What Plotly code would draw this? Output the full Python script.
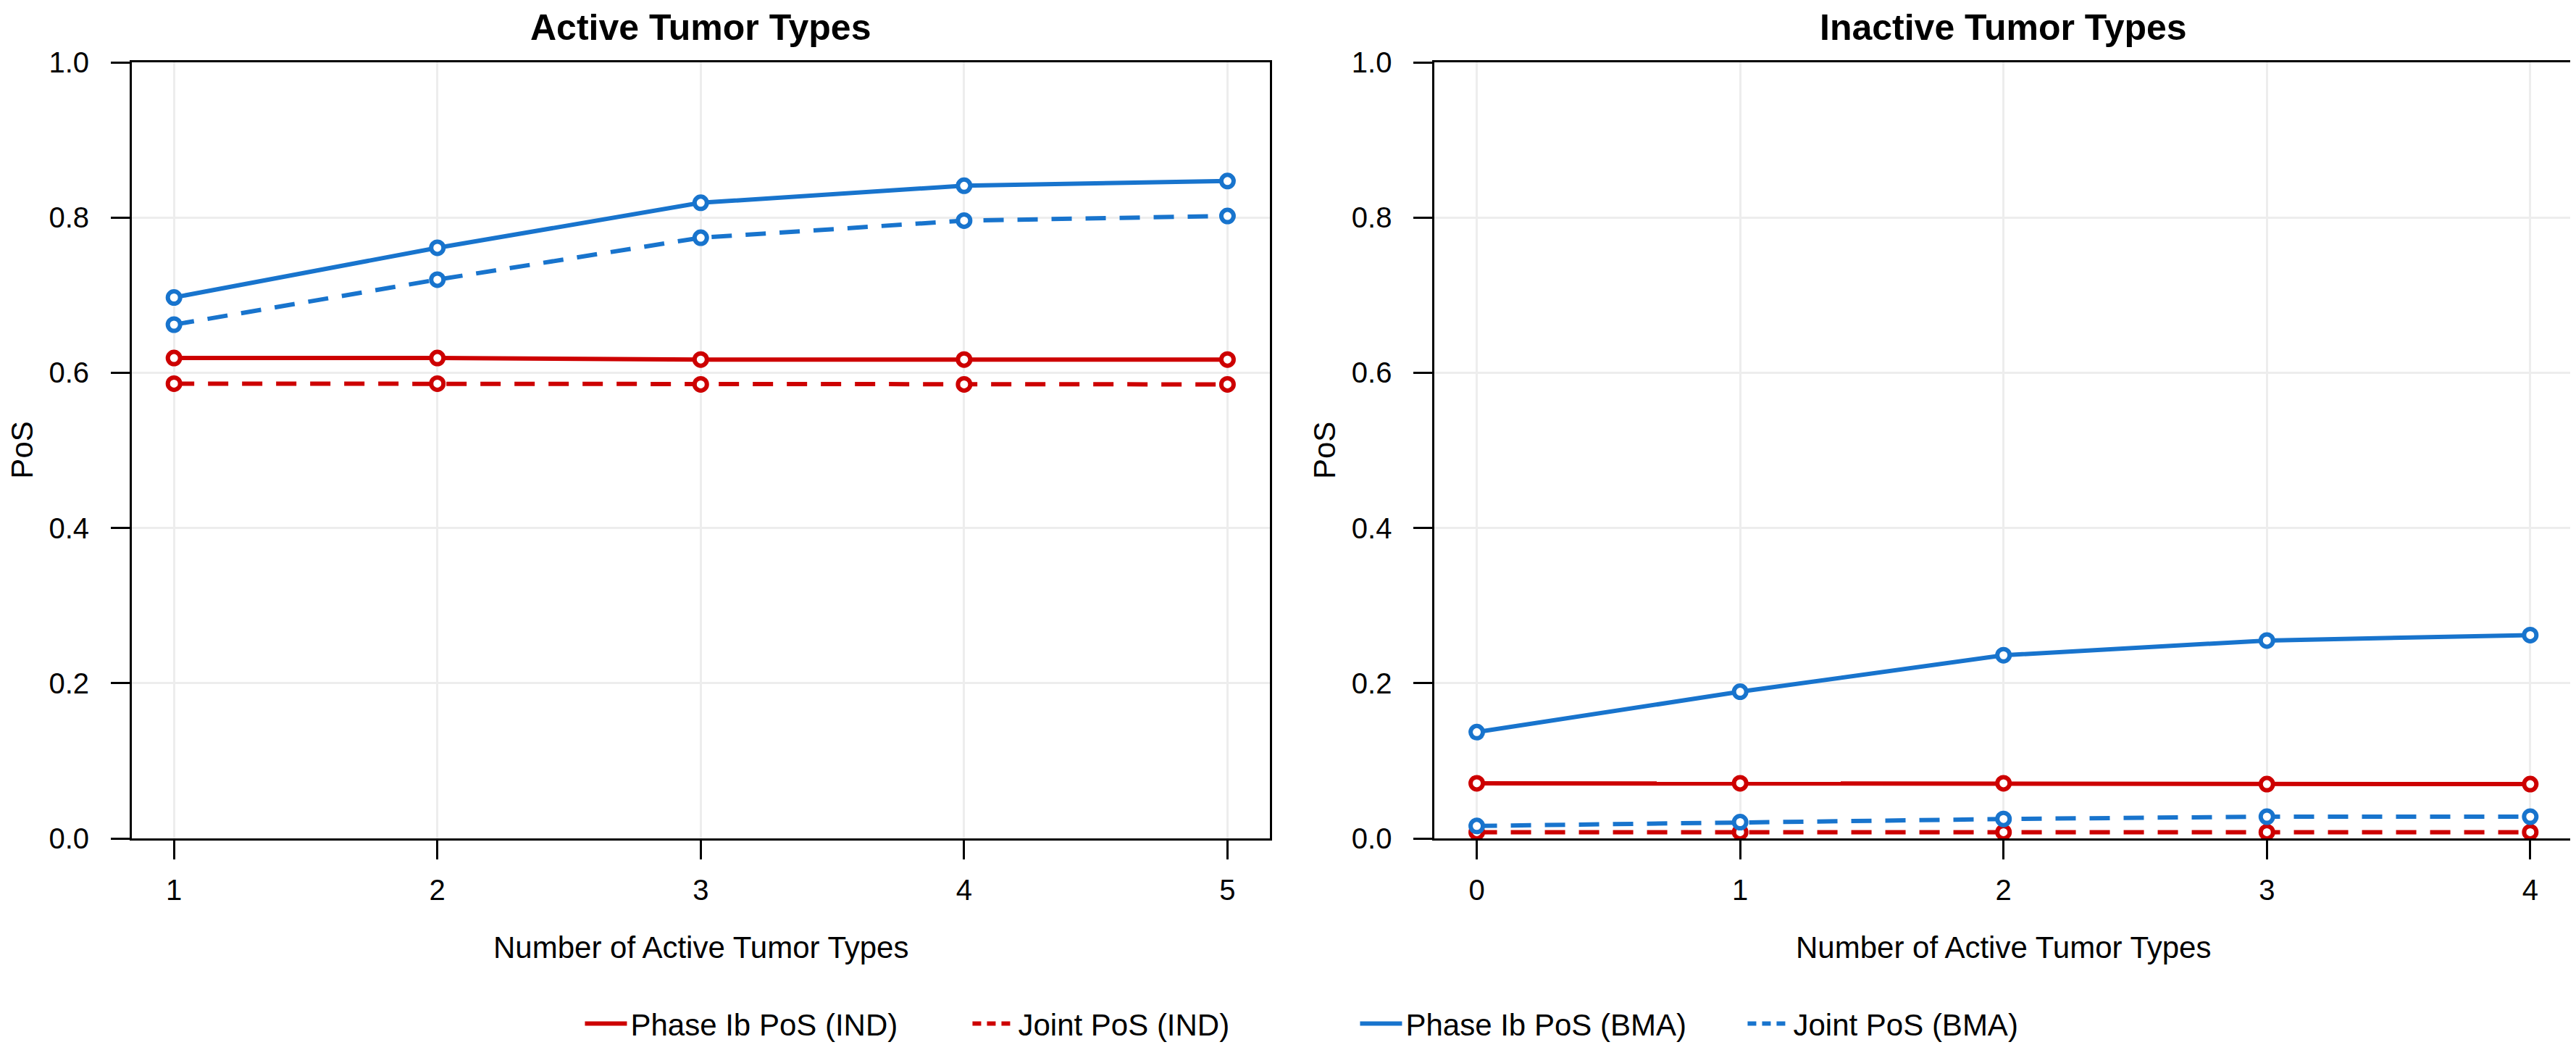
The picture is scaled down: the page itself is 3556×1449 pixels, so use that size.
import plotly.graph_objects as go

# ---------------- data ----------------
x_active = [1, 2, 3, 4, 5]
x_inactive = [0, 1, 2, 3, 4]

active_phase_ind = [0.619, 0.619, 0.617, 0.617, 0.617]
active_joint_ind = [0.586, 0.586, 0.585, 0.585, 0.585]
active_phase_bma = [0.697, 0.761, 0.819, 0.841, 0.847]
active_joint_bma = [0.662, 0.720, 0.774, 0.796, 0.802]

inactive_phase_ind = [0.071, 0.071, 0.071, 0.070, 0.070]
inactive_joint_ind = [0.008, 0.008, 0.008, 0.008, 0.008]
inactive_phase_bma = [0.137, 0.189, 0.236, 0.255, 0.262]
inactive_joint_bma = [0.016, 0.021, 0.025, 0.028, 0.028]

series_names = ["Phase Ib PoS (IND)", "Joint PoS (IND)", "Phase Ib PoS (BMA)", "Joint PoS (BMA)"]
panel_titles = ["Active Tumor Types", "Inactive Tumor Types"]
x_title = "Number of Active Tumor Types"
y_title = "PoS"
y_ticks = [0.0, 0.2, 0.4, 0.6, 0.8, 1.0]
y_ticktext = ["0.0", "0.2", "0.4", "0.6", "0.8", "1.0"]

# ---------------- styling ----------------
RED = "#CD0000"
BLUE = "#1874CD"
FONT = "Liberation Sans, Arial, sans-serif"
LW = 6
DASH = "28px,19px"

W, H = 3556, 1449
ML, MR, MT, MB = 174, 10, 78, 290
plot_w = W - ML - MR
plot_h = H - MT - MB
panel_w = 1572
d1 = [0, panel_w / plot_w]
d2 = [1 - panel_w / plot_w, 1]

fig = go.Figure()

styles = [(RED, "solid"), (RED, DASH), (BLUE, "solid"), (BLUE, DASH)]
panels = [
    ("x", "y", x_active, [active_phase_ind, active_joint_ind, active_phase_bma, active_joint_bma]),
    ("x2", "y2", x_inactive, [inactive_phase_ind, inactive_joint_ind, inactive_phase_bma, inactive_joint_bma]),
]

for xa, ya, xs, ys_list in panels:
    for (col, dash), ys, name in zip(styles, ys_list, series_names):
        fig.add_trace(go.Scatter(
            x=xs, y=ys, xaxis=xa, yaxis=ya, mode="lines+markers", name=name,
            showlegend=False, cliponaxis=False,
            line=dict(color=col, width=LW, dash=dash),
            marker=dict(symbol="circle", size=17, color="white",
                        line=dict(color=col, width=6)),
        ))

# legend-only entries (line samples without markers)
legend_dash = ["solid", "12px,8px", "solid", "12px,8px"]
for (col, _), ld, name in zip(styles, legend_dash, series_names):
    fig.add_trace(go.Scatter(
        x=[None], y=[None], mode="lines", name=name, showlegend=True,
        line=dict(color=col, width=LW, dash=ld),
    ))

axis_common = dict(
    showline=True, mirror=True, linecolor="black", linewidth=3,
    ticks="outside", ticklen=26, tickwidth=3, tickcolor="black",
    showgrid=True, gridcolor="#EDEDED", gridwidth=3, zeroline=False,
    tickfont=dict(family=FONT, size=40, color="black"),
)

fig.update_layout(
    width=W, height=H,
    margin=dict(l=ML, r=MR, t=MT, b=MB),
    paper_bgcolor="white", plot_bgcolor="white",
    font=dict(family=FONT, size=42, color="black"),
    xaxis=dict(domain=d1, range=[0.84, 5.16], tickvals=x_active, anchor="y",
               ticklabelstandoff=8, **axis_common),
    yaxis=dict(domain=[0, 1], range=[0, 1], tickvals=y_ticks, ticktext=y_ticktext,
               anchor="x", ticklabelstandoff=22, **axis_common),
    xaxis2=dict(domain=d2, range=[-0.16, 4.16], tickvals=x_inactive, anchor="y2",
                ticklabelstandoff=8, **axis_common),
    yaxis2=dict(domain=[0, 1], range=[0, 1], tickvals=y_ticks, ticktext=y_ticktext,
                anchor="x2", ticklabelstandoff=22, **axis_common),
    showlegend=True,
    legend=dict(
        orientation="h", x=(795 - ML) / plot_w, xanchor="left",
        y=(MT + plot_h - 1417) / plot_h, yanchor="middle",
        entrywidth=462, entrywidthmode="pixels", itemwidth=58,
        font=dict(family=FONT, size=42, color="black"),
        bgcolor="rgba(0,0,0,0)", traceorder="normal",
    ),
)

annotations = []
for dom, title in zip([d1, d2], panel_titles):
    cx = (dom[0] + dom[1]) / 2
    annotations.append(dict(text=f"<b>{title}</b>", x=cx, y=(MT + plot_h - 30) / plot_h,
                            xref="paper", yref="paper", showarrow=False, borderpad=0,
                            xanchor="center", yanchor="middle",
                            font=dict(family=FONT, size=50, color="black")))
    annotations.append(dict(text=x_title, x=cx, y=(MT + plot_h - 1311) / plot_h,
                            xref="paper", yref="paper", showarrow=False,
                            xanchor="center", yanchor="middle",
                            font=dict(family=FONT, size=42, color="black")))
    annotations.append(dict(text=y_title, x=dom[0] - (ML - 22) / plot_w, y=0.5,
                            xref="paper", yref="paper", showarrow=False, textangle=-90,
                            xanchor="center", yanchor="middle",
                            font=dict(family=FONT, size=42, color="black")))
fig.update_layout(annotations=annotations)

fig.write_html("out.html")
